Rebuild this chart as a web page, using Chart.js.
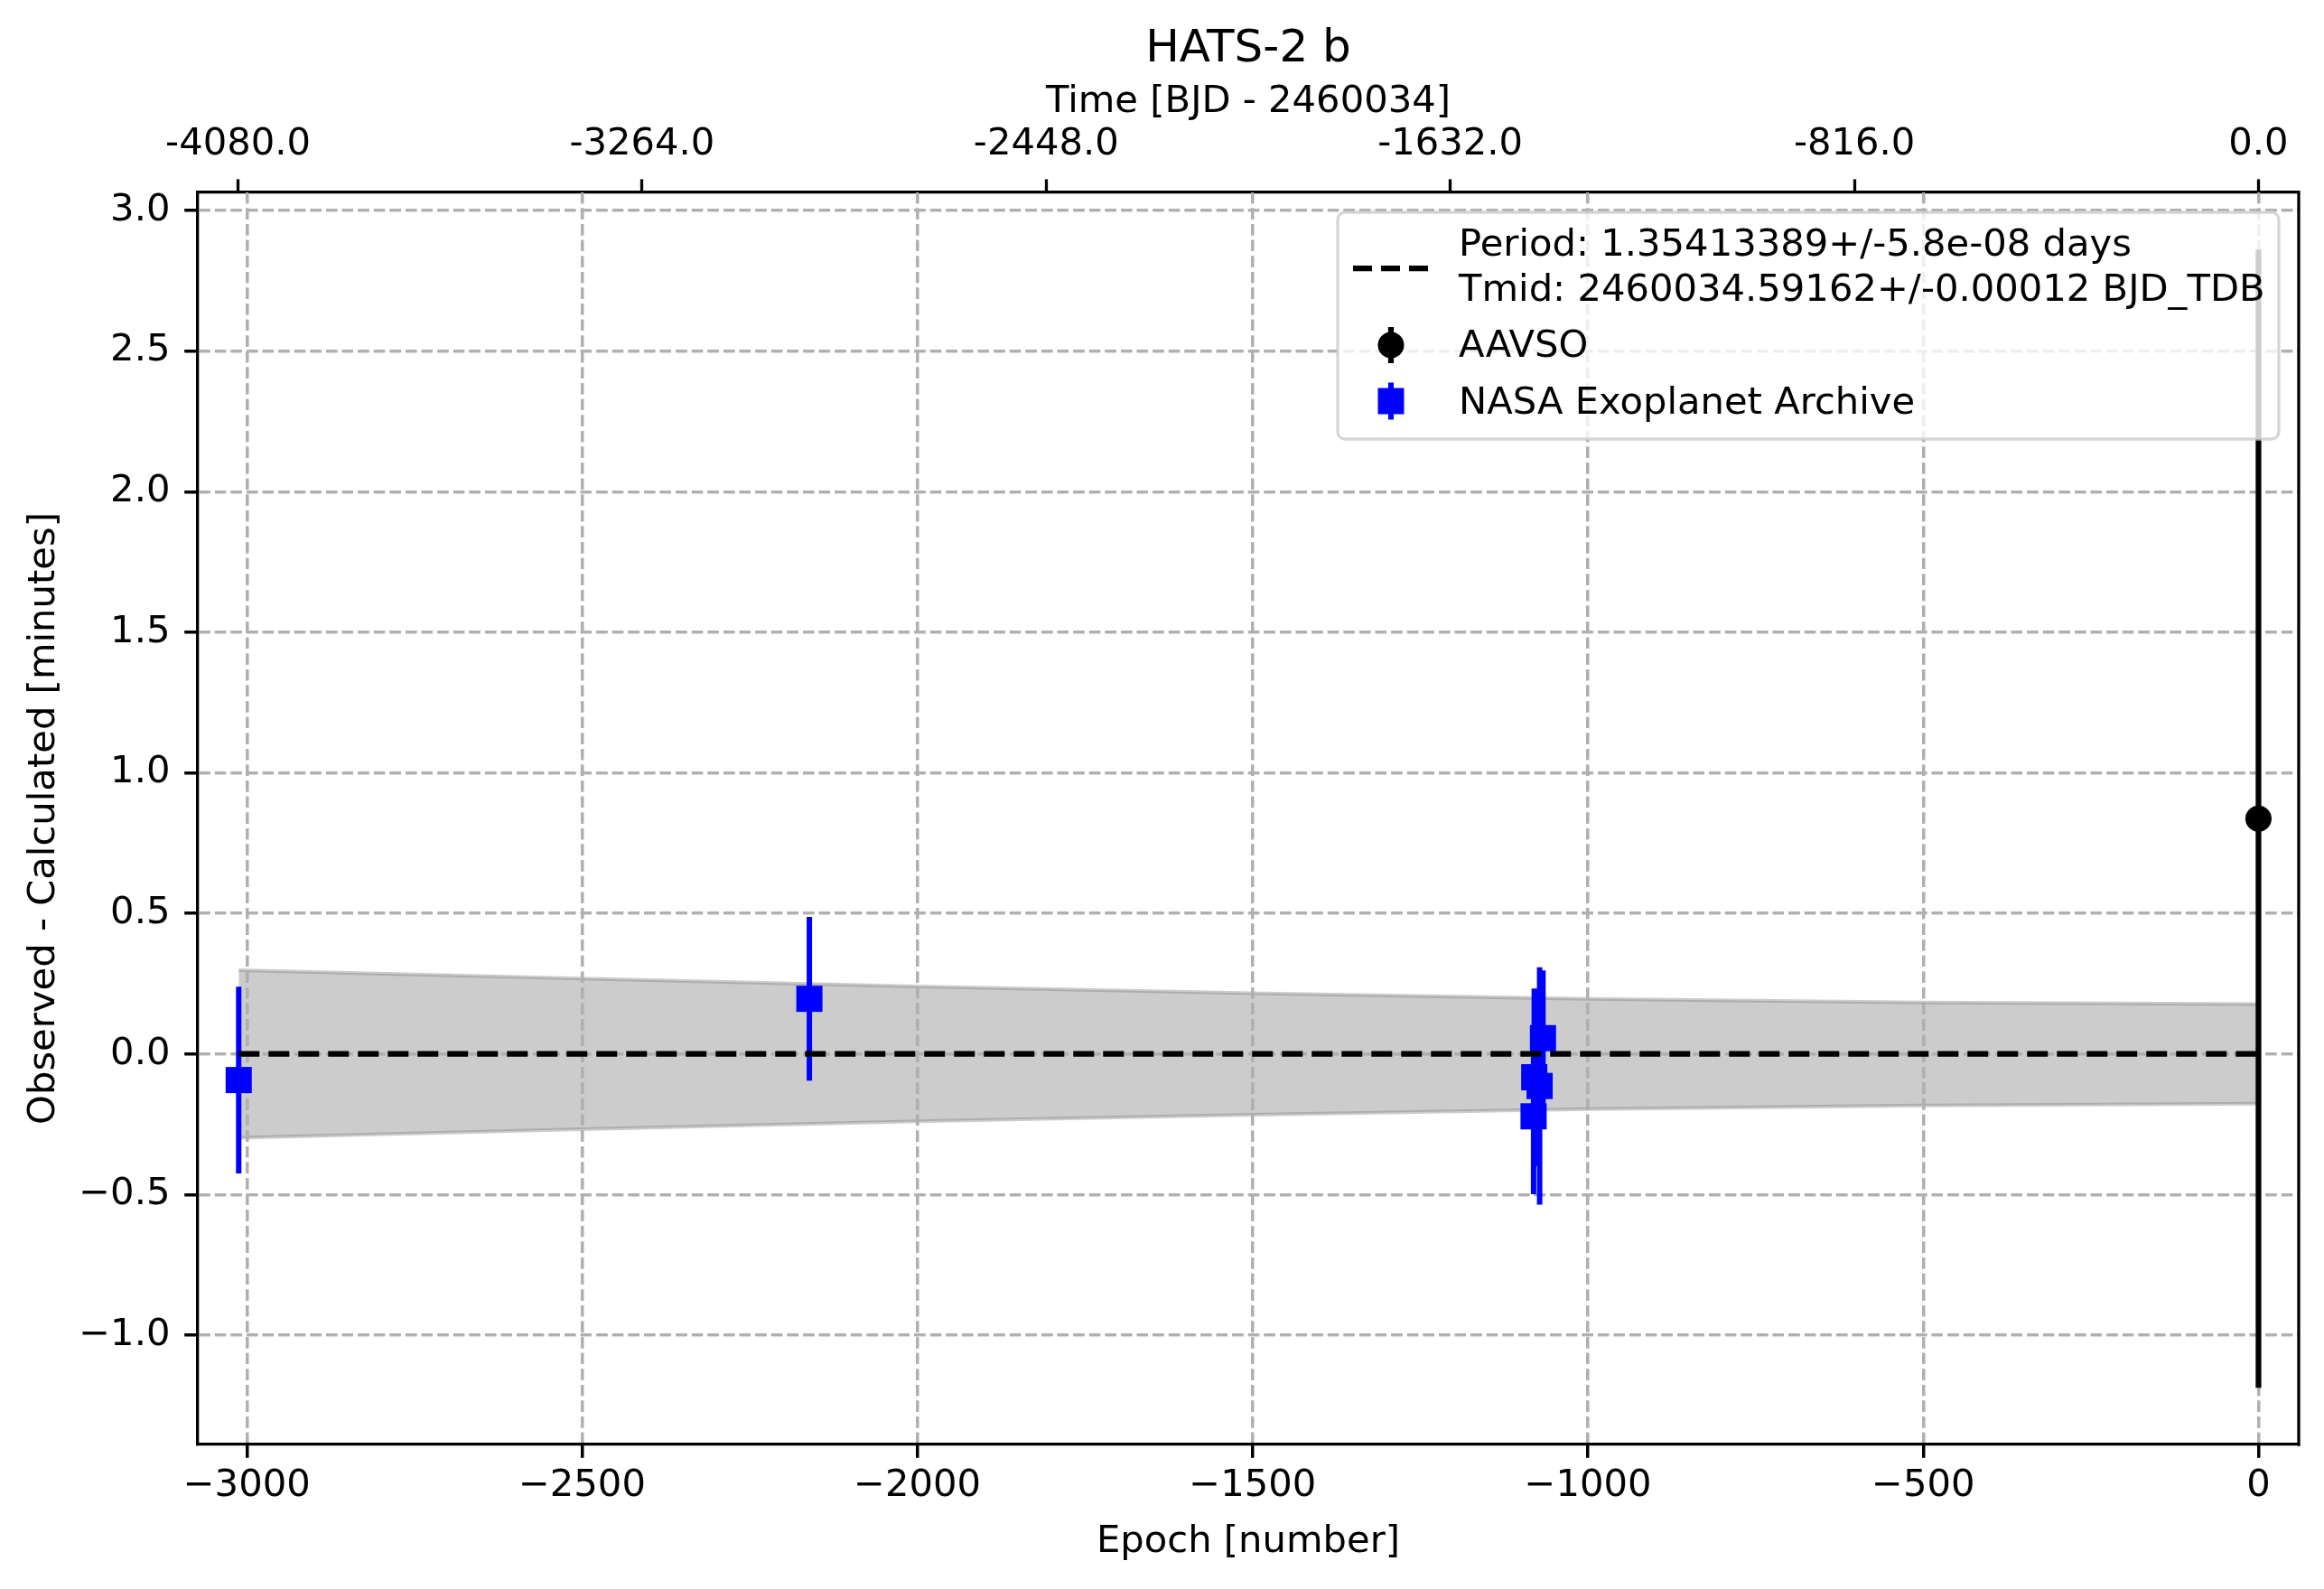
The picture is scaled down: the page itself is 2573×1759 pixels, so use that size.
<!DOCTYPE html>
<html>
<head>
<meta charset="utf-8">
<title>HATS-2 b O-C</title>
<script src="https://cdn.jsdelivr.net/npm/chart.js@4.4.1/dist/chart.umd.min.js"></script>
<style>
    html, body { margin: 0; padding: 0; background: #fff; }
    #wrap { width: 2573px; height: 1759px; }
</style>
</head>
<body>
<div id="wrap"><canvas id="oc-chart"></canvas></div>
<script>
// ephemeris from the legend
const period = 1.35413389;

// NASA Exoplanet Archive transits (epoch, O-C minutes, 1 sigma)
const nasaEpochs = [-3012, -2161, -1081, -1080, -1072, -1067];
const nasaOC = [-0.093, 0.196, -0.222, -0.083, -0.114, 0.056];
const nasaErr = [0.332, 0.291, 0.277, 0.316, 0.422, 0.241];

// AAVSO transit
const aavsoEpochs = [0];
const aavsoOC = [0.837];
const aavsoErr = [2.024];

// grey ephemeris uncertainty band
const bandEpochs = [-3012, -2500, -2000, -1500, -1000, -500, 0];
const bandUpper = [0.298, 0.268, 0.240, 0.216, 0.196, 0.183, 0.177];
const bandLower = [-0.298, -0.268, -0.240, -0.216, -0.196, -0.183, -0.177];

// fitted linear ephemeris (zero line)
const fitEpochs = [-3012, 0];
const fitOC = [0, 0];

// tick labels
const epochTicks = [-3000, -2500, -2000, -1500, -1000, -500, 0];
const ocTicks = [-1.0, -0.5, 0.0, 0.5, 1.0, 1.5, 2.0, 2.5, 3.0];
const timeTicks = [-4080.0, -3264.0, -2448.0, -1632.0, -816.0, 0.0];

const epochMin = -3073;
const epochMax = 60;
const ocMin = -1.389;
const ocMax = 3.064;

const FONT = 41.7;
const gridDash = [12.3, 5.3];

Chart.defaults.font.family = '"DejaVu Sans", sans-serif';
Chart.defaults.color = '#000';

const toPoints = (xs, ys) => xs.map((x, i) => ({ x: x, y: ys[i] }));

// vertical error bars as one line per point, broken with nulls
function errorSegments(epochs, values, errs) {
    const pts = [];
    epochs.forEach((e, i) => {
        pts.push({ x: e, y: values[i] - errs[i] });
        pts.push({ x: e, y: values[i] + errs[i] });
        pts.push({ x: e, y: null });
    });
    return pts;
}

const minus = (s) => s.replace('-', '\u2212');

const ocExtras = {
    id: 'ocExtras',
    afterDatasetDraw(chart, args) {
        // grid sits above the shaded band but below the points
        if (args.index === 1) {
            chart.scales.x.drawGrid(chart.chartArea);
            chart.scales.y.drawGrid(chart.chartArea);
        }
    },
    afterDraw(chart) {
        const ctx = chart.ctx;
        const area = chart.chartArea;
        ctx.save();

        // right spine
        ctx.strokeStyle = '#000';
        ctx.lineWidth = 3.3;
        ctx.beginPath();
        ctx.moveTo(area.right, area.top - 1.65);
        ctx.lineTo(area.right, area.bottom + 1.65);
        ctx.stroke();

        // title
        ctx.fillStyle = '#000';
        ctx.font = '50px "DejaVu Sans"';
        ctx.textAlign = 'center';
        ctx.textBaseline = 'alphabetic';
        ctx.fillText('HATS-2 b', (area.left + area.right) / 2, 68);

        // legend
        const bw = 1042, bh = 251;
        const bx = area.right - 22 - bw;
        const by = area.top + 22;
        ctx.beginPath();
        ctx.roundRect(bx, by, bw, bh, 8);
        ctx.fillStyle = 'rgba(255,255,255,0.8)';
        ctx.fill();
        ctx.strokeStyle = 'rgba(204,204,204,0.8)';
        ctx.lineWidth = 3.3;
        ctx.stroke();

        const hx = bx + 59;
        const tx = bx + 134;

        // dashed fit handle
        ctx.strokeStyle = '#000';
        ctx.lineWidth = 6.25;
        ctx.setLineDash([21, 10]);
        ctx.beginPath();
        ctx.moveTo(bx + 17, by + 62);
        ctx.lineTo(bx + 102, by + 62);
        ctx.stroke();
        ctx.setLineDash([]);

        // AAVSO handle
        ctx.beginPath();
        ctx.moveTo(hx, by + 127);
        ctx.lineTo(hx, by + 167);
        ctx.stroke();
        ctx.fillStyle = '#000';
        ctx.beginPath();
        ctx.arc(hx, by + 147, 14.5, 0, Math.PI * 2);
        ctx.fill();

        // NASA handle
        ctx.strokeStyle = '#0000ff';
        ctx.lineWidth = 6;
        ctx.beginPath();
        ctx.moveTo(hx, by + 188.5);
        ctx.lineTo(hx, by + 229.5);
        ctx.stroke();
        ctx.fillStyle = '#0000ff';
        ctx.fillRect(hx - 14.5, by + 194.5, 29, 29);

        ctx.fillStyle = '#000';
        ctx.font = FONT + 'px "DejaVu Sans"';
        ctx.textAlign = 'left';
        ctx.fillText('Period: 1.35413389+/-5.8e-08 days', tx, by + 48);
        ctx.fillText('Tmid: 2460034.59162+/-0.00012 BJD_TDB', tx, by + 98);
        ctx.fillText('AAVSO', tx, by + 160);
        ctx.fillText('NASA Exoplanet Archive', tx, by + 223);

        ctx.restore();
    }
};

const ctx = document.getElementById('oc-chart').getContext('2d');

new Chart(ctx, {
    type: 'line',
    data: {
        datasets: [
            {
                label: 'band upper',
                data: toPoints(bandEpochs, bandUpper),
                borderColor: 'rgba(128,128,128,0.4)',
                backgroundColor: 'rgba(128,128,128,0.4)',
                borderWidth: 4,
                fill: '+1',
                pointRadius: 0,
                tension: 0,
                order: 10
            },
            {
                label: 'band lower',
                data: toPoints(bandEpochs, bandLower),
                borderColor: 'rgba(128,128,128,0.4)',
                borderWidth: 4,
                fill: false,
                pointRadius: 0,
                tension: 0,
                order: 9
            },
            {
                label: 'NASA error',
                data: errorSegments(nasaEpochs, nasaOC, nasaErr),
                borderColor: '#0000ff',
                borderWidth: 6,
                pointRadius: 0,
                spanGaps: false,
                order: 6
            },
            {
                label: 'NASA Exoplanet Archive',
                data: toPoints(nasaEpochs, nasaOC),
                showLine: false,
                pointStyle: 'rect',
                pointRadius: 20.5,
                pointBackgroundColor: '#0000ff',
                pointBorderWidth: 0,
                order: 5
            },
            {
                label: 'AAVSO error',
                data: errorSegments(aavsoEpochs, aavsoOC, aavsoErr),
                borderColor: '#000',
                borderWidth: 6.25,
                pointRadius: 0,
                spanGaps: false,
                order: 4
            },
            {
                label: 'AAVSO',
                data: toPoints(aavsoEpochs, aavsoOC),
                showLine: false,
                pointStyle: 'circle',
                pointRadius: 14.5,
                pointBackgroundColor: '#000',
                pointBorderWidth: 0,
                order: 3
            },
            {
                label: 'fit',
                data: toPoints(fitEpochs, fitOC),
                borderColor: '#000',
                borderWidth: 6.25,
                borderDash: [23, 10],
                pointRadius: 0,
                order: 1
            }
        ]
    },
    options: {
        responsive: true,
        maintainAspectRatio: false,
        devicePixelRatio: 1,
        animation: false,
        events: [],
        layout: { padding: { left: 0, right: 28, top: 0, bottom: 0 } },
        plugins: {
            legend: { display: false },
            title: { display: false },
            tooltip: { enabled: false }
        },
        scales: {
            x: {
                type: 'linear',
                position: 'bottom',
                min: epochMin,
                max: epochMax,
                afterBuildTicks: (s) => { s.ticks = epochTicks.map((v) => ({ value: v })); },
                afterFit: (s) => { s.height = 160; },
                ticks: {
                    color: '#000',
                    font: { size: FONT },
                    padding: 7,
                    maxRotation: 0,
                    autoSkip: false,
                    callback: (v) => minus(String(v))
                },
                grid: {
                    color: '#b0b0b0',
                    lineWidth: 3.3,
                    tickLength: 14.6,
                    tickColor: '#000',
                    tickWidth: 3.3,
                    tickBorderDash: []
                },
                border: { display: true, color: '#000', width: 3.3, dash: gridDash },
                title: {
                    display: true,
                    text: 'Epoch [number]',
                    color: '#000',
                    font: { size: FONT },
                    padding: { top: 0, bottom: 27 }
                }
            },
            x2: {
                type: 'linear',
                position: 'top',
                min: epochMin * period,
                max: epochMax * period,
                afterBuildTicks: (s) => { s.ticks = timeTicks.map((v) => ({ value: v })); },
                afterFit: (s) => { s.height = 213; },
                ticks: {
                    color: '#000',
                    font: { size: FONT },
                    padding: 13,
                    maxRotation: 0,
                    autoSkip: false,
                    callback: (v) => v.toFixed(1)
                },
                grid: {
                    drawOnChartArea: false,
                    tickLength: 14.6,
                    tickColor: '#000',
                    tickWidth: 3.3,
                    tickBorderDash: []
                },
                border: { display: true, color: '#000', width: 3.3 },
                title: {
                    display: true,
                    text: 'Time [BJD - 2460034]',
                    color: '#000',
                    font: { size: FONT },
                    padding: { top: 88, bottom: 0 }
                }
            },
            y: {
                type: 'linear',
                position: 'left',
                min: ocMin,
                max: ocMax,
                afterBuildTicks: (s) => { s.ticks = ocTicks.map((v) => ({ value: v })); },
                afterFit: (s) => { s.width = 219; },
                ticks: {
                    color: '#000',
                    font: { size: FONT },
                    padding: 16,
                    autoSkip: false,
                    callback: (v) => minus(v.toFixed(1))
                },
                grid: {
                    color: '#b0b0b0',
                    lineWidth: 3.3,
                    tickLength: 14.6,
                    tickColor: '#000',
                    tickWidth: 3.3,
                    tickBorderDash: []
                },
                border: { display: true, color: '#000', width: 3.3, dash: gridDash },
                title: {
                    display: true,
                    text: 'Observed - Calculated [minutes]',
                    color: '#000',
                    font: { size: FONT },
                    padding: { top: 24, bottom: 0 }
                }
            }
        }
    },
    plugins: [ocExtras]
});
</script>
</body>
</html>
